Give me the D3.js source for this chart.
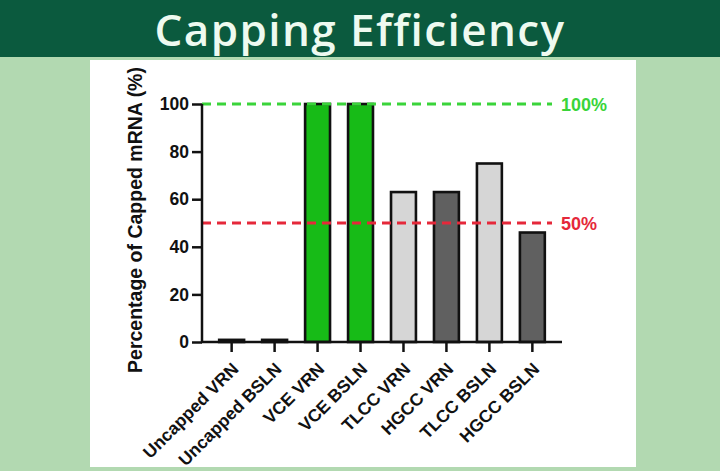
<!DOCTYPE html>
<html><head><meta charset="utf-8">
<script src="https://cdn.jsdelivr.net/npm/d3@7"></script>
<style>html,body{margin:0;padding:0;background:#b2d9b1;}svg{display:block;}</style>
</head><body>
<svg id="c" width="720" height="471"></svg>
<script>
const categories = ["Uncapped VRN","Uncapped BSLN","VCE VRN","VCE BSLN","TLCC VRN","HGCC VRN","TLCC BSLN","HGCC BSLN"];
const values = [0.9, 0.9, 100, 100, 63, 63, 75, 46];
const barColors = ["#1a1a1a","#1a1a1a","#17bb17","#17bb17","#d6d6d6","#606060","#d6d6d6","#606060"];
const yTicks = [0, 20, 40, 60, 80, 100];
const refValues = [100, 50];
const refLabels = ["100%", "50%"];
const refColors = ["#3ad43a", "#e5283a"];

const svg = d3.select("#c");
svg.append("rect").attr("x",0).attr("y",0).attr("width",720).attr("height",471).attr("fill","#b2d9b1");
svg.append("rect").attr("x",0).attr("y",0).attr("width",720).attr("height",57).attr("fill","#0b5a3e");
svg.append("text").attr("x",360).attr("y",46).attr("text-anchor","middle")
  .attr("font-family","'Open Sans', sans-serif").attr("font-weight",600).attr("font-size",44)
  .attr("letter-spacing",1.4)
  .attr("fill","#eefaf0").text("Capping Efficiency");
svg.append("rect").attr("x",90).attr("y",60).attr("width",546).attr("height",407).attr("fill","#ffffff");

const x0 = 202, x1 = 562, yTop = 104, yBot = 342;
const x = d3.scaleBand().domain(categories).range([x0, x1]).paddingInner(0.42).paddingOuter(0.4);
const y = d3.scaleLinear().domain([0, 100]).range([yBot, yTop]);

const g = svg.append("g");
// bars
g.selectAll("rect.bar").data(categories).join("rect").attr("class","bar")
  .attr("x", d => x(d)).attr("width", x.bandwidth())
  .attr("y", (d,i) => y(values[i])).attr("height", (d,i) => y(0) - y(values[i]))
  .attr("fill", (d,i) => barColors[i]).attr("stroke","#111").attr("stroke-width",2.6);

// reference lines
refValues.forEach((v,i) => {
  g.append("line").attr("x1", x0).attr("x2", 552).attr("y1", y(v)).attr("y2", y(v))
    .attr("stroke", refColors[i]).attr("stroke-width", 3).attr("stroke-dasharray","9,6");
  g.append("text").attr("x", 561).attr("y", y(v) + 7).attr("font-family","'Liberation Sans', Arial, sans-serif")
    .attr("font-weight","bold").attr("font-size",18).attr("fill", refColors[i]).text(refLabels[i]);
});

// y axis
const yAxis = g.append("g").attr("transform",`translate(${x0},0)`)
  .call(d3.axisLeft(y).tickValues(yTicks).tickSize(10).tickPadding(3));
yAxis.select(".domain").attr("stroke","#111").attr("stroke-width",2.5).attr("d",`M0,${yBot+1}V${yTop}`);
yAxis.selectAll(".tick line").attr("stroke","#111").attr("stroke-width",2.5);
yAxis.selectAll(".tick text").attr("font-family","'Liberation Sans', Arial, sans-serif")
  .attr("font-weight","bold").attr("font-size",17.5).attr("fill","#111");

// x axis
const xAxis = g.append("g").attr("transform",`translate(0,${yBot})`)
  .call(d3.axisBottom(x).tickSize(10).tickPadding(4));
xAxis.select(".domain").attr("stroke","#111").attr("stroke-width",2.5).attr("d",`M${x0-1},0H${x1}`);
xAxis.selectAll(".tick line").attr("stroke","#111").attr("stroke-width",2.5);
xAxis.selectAll(".tick text").attr("font-family","'Liberation Sans', Arial, sans-serif")
  .attr("font-weight","bold").attr("font-size",17.5).attr("fill","#111")
  .attr("text-anchor","end").attr("dy",null).attr("y",0)
  .attr("transform","translate(8,28) rotate(-45)");

// y label
svg.append("text").attr("transform",`translate(142,${(63+377)/2}) rotate(-90)`)
  .attr("text-anchor","middle").attr("font-family","'Liberation Sans', Arial, sans-serif")
  .attr("font-weight","bold").attr("font-size",19.5).attr("fill","#111")
  .text("Percentage of Capped mRNA (%)");
</script>
</body></html>
